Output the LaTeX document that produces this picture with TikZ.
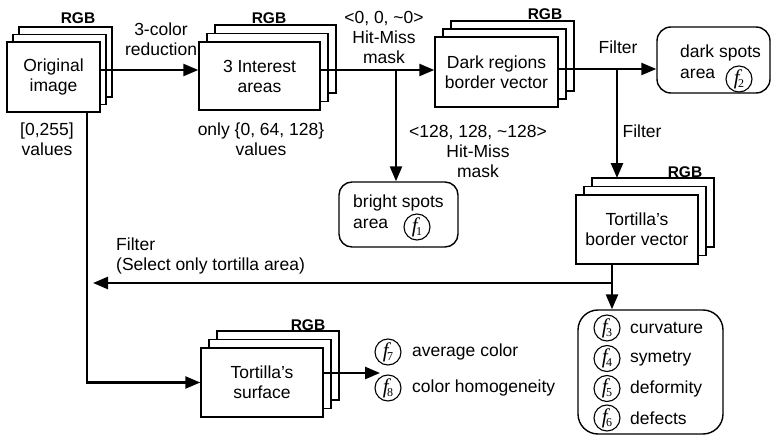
\documentclass[tikz,border=0pt]{standalone}
\usepackage{fontspec}
\setmainfont{Liberation Sans}
\newfontfamily\fserif{Liberation Serif}
\usetikzlibrary{arrows.meta}
\tikzset{
  layer/.style={draw, line width=1.4pt, fill=white},
  txt/.style={font=\fontsize{17.5}{20}\selectfont, align=center, inner sep=0pt},
  ltxt/.style={font=\fontsize{17.5}{20}\selectfont, align=left, inner sep=0pt},
  rgb/.style={font=\fontsize{15.5}{16}\selectfont\bfseries, inner sep=0pt},
  arr/.style={line width=2.5pt, -{Triangle[length=15pt,width=12pt]}},
  rbox/.style={draw, line width=1.4pt, fill=white},
  fc/.style={circle, draw, line width=1.1pt, minimum size=26pt, inner sep=0pt,
    font=\fontsize{21}{21}\selectfont\fserif\itshape}
}
\newcommand\fl[1]{f\kern-1.5pt\raisebox{-3pt}{\fontsize{12}{12}\selectfont\upshape #1}}
% name, cx, cy, w, h, dx, dy, text
\newcommand\mkstack[8]{%
  \draw[layer] ({#2-#4/2+2*#6},{#3-#5/2-2*#7}) rectangle ({#2+#4/2+2*#6},{#3+#5/2-2*#7});
  \draw[layer] ({#2-#4/2+#6},{#3-#5/2-#7}) rectangle ({#2+#4/2+#6},{#3+#5/2-#7});
  \node[layer, txt, minimum width=#4pt, minimum height=#5pt] (#1) at (#2,#3) {#8};
  \coordinate (#1-top) at ({#2},{#3-#5/2-2*#7});
}
\begin{document}
\begin{tikzpicture}[x=1pt,y=-1pt]
\useasboundingbox[fill=white] (0,0) rectangle (772,444);

% stacks
\mkstack{orig}{53.5}{77}{93}{70}{6}{7.5}{Original\\image}
\mkstack{int}{259.5}{76}{121}{68}{8}{8.5}{3 Interest\\areas}
\mkstack{dark}{496.5}{72}{123}{70}{8}{8}{Dark regions\\border vector}
\mkstack{border}{637}{229.5}{122}{69}{8}{8.5}{Tortilla's\\border vector}
\mkstack{surf}{262}{382.5}{122}{69}{8}{8.5}{Tortilla's\\surface}

% RGB labels
\node[rgb] (rgb1) at (78,18) {RGB};
\node[rgb] (rgb2) at (269,18) {RGB};
\node[rgb] (rgb3) at (545,14) {RGB};
\node[rgb] (rgb4) at (685,172) {RGB};
\node[rgb] (rgb5) at (308,325) {RGB};

% rounded boxes
\node[rbox, rounded corners=13pt, minimum width=119pt, minimum height=65pt] (bright) at (398.5,214.5) {};
\node[ltxt, anchor=west] (bt1) at (353,203) {bright spots};
\node[ltxt, anchor=west] (bt2) at (353,224) {area};
\node[fc] (f1) at (417,227) {\fl{1}};

\node[rbox, rounded corners=14pt, minimum width=113pt, minimum height=66pt] (dspots) at (713.5,60) {};
\node[ltxt, anchor=west] (dt1) at (680,53) {dark spots};
\node[ltxt, anchor=west] (dt2) at (680,74) {area};
\node[fc] (f2) at (739,79) {\fl{2}};

\node[rbox, rounded corners=20pt, minimum width=145pt, minimum height=124pt] (feat) at (650.5,372) {};
\node[fc] (f3) at (607,328) {\fl{3}};
\node[fc] (f4) at (607,358.5) {\fl{4}};
\node[fc] (f5) at (607,388.5) {\fl{5}};
\node[fc] (f6) at (607,418) {\fl{6}};
\node[ltxt, anchor=west] (t3) at (630,328) {curvature};
\node[ltxt, anchor=west] (t4) at (630,358.5) {symetry};
\node[ltxt, anchor=west] (t5) at (630,388.5) {deformity};
\node[ltxt, anchor=west] (t6) at (630,418) {defects};

\node[fc] (f7) at (388,352) {\fl{7}};
\node[fc] (f8) at (388,388) {\fl{8}};
\node[ltxt, anchor=west] (t7) at (412,352) {average color};
\node[ltxt, anchor=west] (t8) at (412,388) {color homogeneity};

% labels
\node[txt] (l1) at (161,39) {3-color\\reduction};
\node[txt] (l2) at (47,139) {[0,255]\\values};
\node[txt] (l3) at (261,139) {only \{0, 64, 128\}\\values};
\node[txt] (l4) at (384,37) {<0, 0, \textasciitilde0>\\Hit-Miss\\mask};
\node[txt] (l5) at (478,151) {<128, 128, \textasciitilde128>\\Hit-Miss\\mask};
\node[txt] (l6) at (618,47) {Filter};
\node[txt] (l7) at (642,131) {Filter};
\node[ltxt, anchor=west] (l8) at (116,256) {Filter\\(Select only tortilla area)};

% connectors
\coordinate (b1) at (396,70);
\coordinate (b2) at (617,69);
\coordinate (b3) at (612,283);
\coordinate (b4) at (93,283);
\coordinate (b6) at (380,373);

\draw[arr] ([yshift=7pt]orig.east) -- ([yshift=7pt]orig.east -| int.west);
\draw[arr] ([yshift=6pt]int.east) -- ([yshift=6pt]int.east -| dark.west);
\draw[arr] (b1) -- (b1 |- bright.north);
\draw[arr] ([yshift=3pt]dark.east) -- ([yshift=3pt]dark.east -| dspots.west);
\draw[arr] (b2) -- (b2 |- border-top);
\draw[arr] (b3 |- border.south) -- (b3 |- feat.north);
\draw[arr] (b3) -- (b4);
\draw[arr] ([xshift=33.5pt]orig.south) |- (surf.west);
\draw[arr] ([yshift=9.5pt]surf.east) -- (b6);
\end{tikzpicture}
\end{document}
